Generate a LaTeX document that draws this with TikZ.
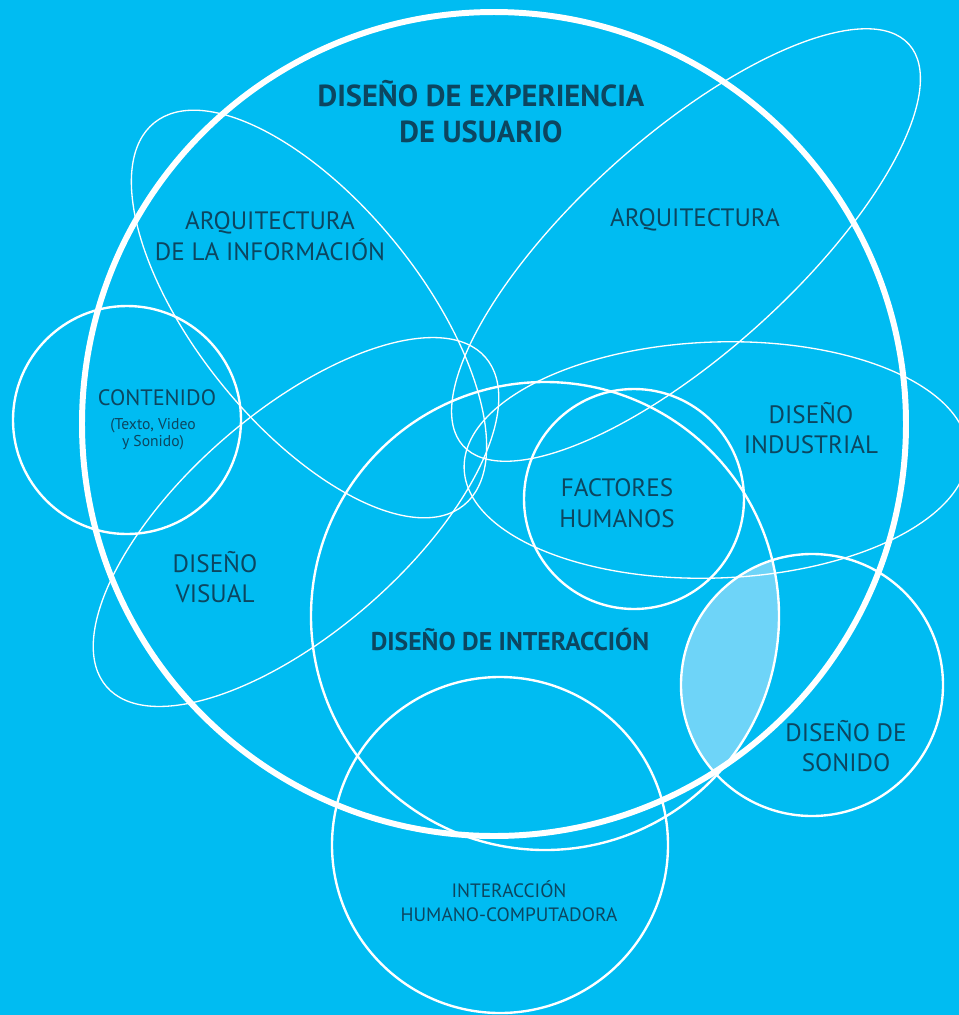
\documentclass[tikz,border=0pt]{standalone}
\usepackage{fontspec}
\setmainfont{PT Sans}
\definecolor{sky}{RGB}{0,188,242}
\definecolor{lens}{RGB}{110,212,248}
\definecolor{ink}{RGB}{12,70,96}
\begin{document}
\begin{tikzpicture}[x=0.02cm,y=-0.02cm,
    bigring/.style={draw=white,line width=3.4pt},
    ring/.style={draw=white,line width=1.35pt},
    orbit/.style={draw=white,line width=0.75pt},
    lbl/.style={text=ink,align=center,inner sep=0pt,font=\fontsize{14.3}{17.5}\selectfont},
    head/.style={lbl,font=\fontsize{17.3}{20.5}\selectfont\bfseries}]
		\fill[sky] (0,0) rectangle (959,1015);
		\useasboundingbox (0,0) rectangle (959,1015);
		\coordinate (UX) at (494,424);
		\coordinate (C) at (127,420);
		\coordinate (F) at (634,499);
		\coordinate (S) at (812,685);
		\coordinate (H) at (500,845);
		\coordinate (I) at (545,616);
		\coordinate (A) at (686,245);
		\coordinate (AI) at (309,314);
		\coordinate (V) at (296,522);
		\coordinate (D) at (716,460);
		% overlap of interaction and sound
		\begin{scope}
			\clip (I) circle (234);
			\fill[lens] (S) circle (131);
		\end{scope}
		\draw[orbit,rotate around={42:(A)}] (A) ellipse [x radius=300,y radius=108];
		\draw[orbit,rotate around={-51:(AI)}] (AI) ellipse [x radius=246,y radius=112];
		\draw[orbit,rotate around={41:(V)}] (V) ellipse [x radius=251,y radius=110];
		\draw[orbit,rotate around={2:(D)}] (D) ellipse [x radius=252,y radius=118];
		\draw[ring] (C) circle (114);
		\draw[ring] (F) circle (110);
		\draw[ring] (S) circle (131);
		\draw[ring] (H) circle (168);
		\draw[ring] (I) circle (234);
		\draw[bigring] (UX) circle (412);
		\node[head] (ux) at (481,112) {DISEÑO DE EXPERIENCIA\\DE USUARIO};
		\node[lbl] (arq) at (695,220) {ARQUITECTURA};
		\node[lbl] (arqinf) at (270,236) {ARQUITECTURA\\DE LA INFORMACIÓN};
		\node[lbl,font=\fontsize{12.7}{15}\selectfont] (cont) at (157,398) {CONTENIDO};
		\node[lbl,font=\fontsize{8.9}{9.6}\selectfont] (contsub) at (153,434) {(Texto, Video\\y Sonido)};
		\node[lbl] (ind) at (811,428) {DISEÑO\\INDUSTRIAL};
		\node[lbl] (fac) at (617,503) {FACTORES\\HUMANOS};
		\node[lbl] (vis) at (215,577) {DISEÑO\\VISUAL};
		\node[lbl,font=\fontsize{14.6}{18}\selectfont\bfseries] (inter) at (510,640) {DISEÑO DE INTERACCIÓN};
		\node[lbl] (son) at (846,746) {DISEÑO DE\\SONIDO};
		\node[lbl,font=\fontsize{11}{14}\selectfont] (hci) at (509,901) {INTERACCIÓN\\HUMANO-COMPUTADORA};
	\end{tikzpicture}
\end{document}
